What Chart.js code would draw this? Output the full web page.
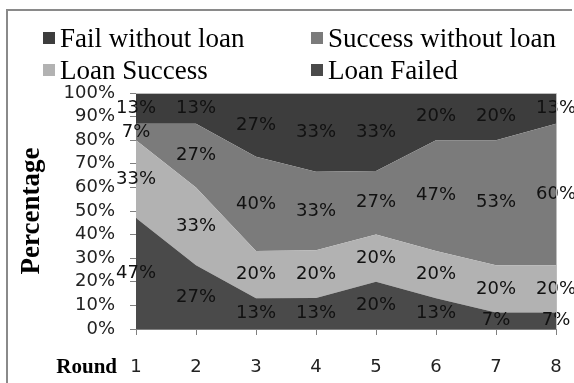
<!DOCTYPE html>
<html>
<head>
<meta charset="utf-8">
<script src="https://cdn.jsdelivr.net/npm/chart.js@4.4.0/dist/chart.umd.min.js"></script>
<style>
  html, body { margin: 0; padding: 0; background: #fff; }
  #wrap { position: relative; width: 574px; height: 383px; overflow: hidden; }
  #frame { position: absolute; left: 6px; top: 9px; width: 566px; height: 400px; border: 2px solid #8a8a8a; border-right: none; box-sizing: border-box; pointer-events: none; }
  canvas { position: absolute; left: 0; top: 0; }
  #legend { position: absolute; left: 0; top: 0; width: 574px; font-family: "Liberation Serif", serif; font-size: 27px; color: #000; }
  .item { position: absolute; display: flex; align-items: center; white-space: nowrap; height: 30px; line-height: 30px; }
  .sw { width: 12px; height: 12px; margin-right: 5px; }
</style>
</head>
<body>
<div id="wrap">
  <canvas id="c" width="574" height="383"></canvas>
  <div id="legend"></div>
  <div id="frame"></div>
</div>
<script>
// ---- data (bottom of stack first) ----
const rounds = ['1', '2', '3', '4', '5', '6', '7', '8'];
const seriesNames = ['Loan Failed', 'Loan Success', 'Success without loan', 'Fail without loan'];
const loanFailed = [47, 27, 13, 13, 20, 13, 7, 7];
const loanSuccess = [33, 33, 20, 20, 20, 20, 20, 20];
const successWithoutLoan = [7, 27, 40, 33, 27, 47, 53, 60];
const failWithoutLoan = [13, 13, 27, 33, 33, 20, 20, 13];
const yTicks = [0, 10, 20, 30, 40, 50, 60, 70, 80, 90, 100];
const seriesColors = ['#4a4a4a', '#b2b2b2', '#7b7b7b', '#3d3d3d'];

const raw = [loanFailed, loanSuccess, successWithoutLoan, failWithoutLoan];
// 100% stacked: normalise each round to its column total
const totals = rounds.map((_, j) => raw.reduce((s, arr) => s + arr[j], 0));
const shares = raw.map(arr => arr.map((v, j) => v / totals[j] * 100));

const datasets = raw.map((arr, i) => ({
  label: seriesNames[i],
  data: shares[i],
  rawValues: arr,
  backgroundColor: seriesColors[i],
  borderWidth: 0,
  pointRadius: 0,
  tension: 0,
  fill: i === 0 ? 'origin' : '-1'
}));

// legend (top series first, two columns)
const legendOrder = [3, 2, 1, 0];
const legendPos = [[43, 23], [311, 23], [43, 55], [311, 55]];
const legend = document.getElementById('legend');
legendOrder.forEach((idx, k) => {
  const d = document.createElement('div');
  d.className = 'item';
  d.style.left = legendPos[k][0] + 'px';
  d.style.top = legendPos[k][1] + 'px';
  d.innerHTML = '<span class="sw" style="background:' + seriesColors[idx] + '"></span><span>' + seriesNames[idx] + '</span>';
  legend.appendChild(d);
});

const labelPlugin = {
  id: 'bandLabels',
  afterDatasetsDraw(chart) {
    const ctx = chart.ctx;
    const xs = chart.scales.x, ys = chart.scales.y;
    ctx.save();
    ctx.font = '18px "DejaVu Sans", sans-serif';
    ctx.fillStyle = '#111';
    ctx.textAlign = 'center';
    ctx.textBaseline = 'middle';
    rounds.forEach((_, j) => {
      let base = 0;
      chart.data.datasets.forEach(ds => {
        const v = ds.data[j];
        const y = ys.getPixelForValue(base + v / 2);
        const x = xs.getPixelForValue(j);
        ctx.fillText(ds.rawValues[j] + '%', x, y);
        base += v;
      });
    });
    // x-axis name to the left of the tick labels
    ctx.font = 'bold 21px "Liberation Serif", serif';
    ctx.fillStyle = '#000';
    ctx.textAlign = 'right';
    ctx.textBaseline = 'alphabetic';
    ctx.fillText('Round', 117, 373);
    // plot area frame
    ctx.strokeStyle = '#bdbdbd';
    ctx.lineWidth = 1;
    const a = chart.chartArea;
    ctx.beginPath();
    ctx.moveTo(a.left, a.top + 0.5);
    ctx.lineTo(a.right + 0.5, a.top + 0.5);
    ctx.lineTo(a.right + 0.5, a.bottom);
    ctx.stroke();
    ctx.restore();
  }
};

new Chart(document.getElementById('c'), {
  type: 'line',
  data: { labels: rounds, datasets },
  options: {
    responsive: false,
    animation: false,
    layout: { padding: { top: 93, right: 18, left: 0, bottom: 0 } },
    plugins: { legend: { display: false }, tooltip: { enabled: false } },
    elements: { line: { borderWidth: 0 } },
    scales: {
      x: {
        offset: false,
        grid: { drawOnChartArea: false, tickLength: 6, color: '#808080' },
        border: { color: '#808080' },
        ticks: { font: { family: '"DejaVu Sans", sans-serif', size: 18 }, color: '#222', padding: 22, maxRotation: 0, autoSkip: false },
        afterFit(s) { s.height = 54; s.paddingLeft = 0; s.paddingRight = 0; }
      },
      y: {
        stacked: true,
        min: 0, max: 100,
        afterBuildTicks(s) { s.ticks = yTicks.map(v => ({ value: v })); },
        grid: { drawOnChartArea: false, tickLength: 6, color: '#808080' },
        border: { color: '#808080' },
        ticks: { font: { family: '"DejaVu Sans", sans-serif', size: 18 }, color: '#222', padding: 15, autoSkip: false, callback: v => v + '%' },
        title: { display: true, text: 'Percentage', font: { family: '"Liberation Serif", serif', size: 27, weight: 'bold' }, color: '#000', padding: { top: 16, bottom: 0 } },
        afterFit(s) { s.width = 136; s.paddingTop = 0; s.paddingBottom = 0; }
      }
    }
  },
  plugins: [labelPlugin]
});
</script>
</body>
</html>
